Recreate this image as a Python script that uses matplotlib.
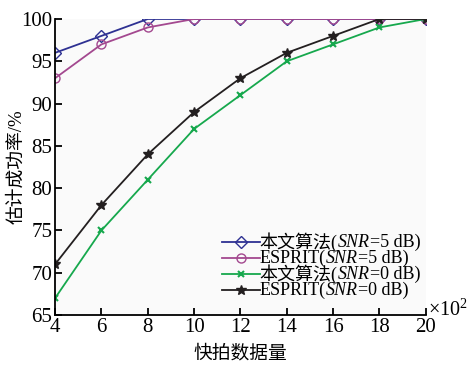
import matplotlib.pyplot as plt
from matplotlib.lines import Line2D
from matplotlib.offsetbox import TextArea, DrawingArea, HPacker, VPacker, AnchoredOffsetbox

plt.rcParams['font.family'] = ['Liberation Serif', 'Noto Sans CJK SC']
plt.rcParams['mathtext.fontset'] = 'custom'
plt.rcParams['mathtext.rm'] = 'Liberation Serif'
plt.rcParams['mathtext.it'] = 'Liberation Serif:italic'

snapshots = [4, 6, 8, 10, 12, 14, 16, 18, 20]
ours_5db = [96, 98, 100, 100, 100, 100, 100, 100, 100]
esprit_5db = [93, 97, 99, 100, 100, 100, 100, 100, 100]
ours_0db = [67, 75, 81, 87, 91, 95, 97, 99, 100]
esprit_0db = [71, 78, 84, 89, 93, 96, 98, 100, 100]

# (method name, snr text) for the legend
labels = [('本文算法', '5 dB'), ('ESPRIT', '5 dB'), ('本文算法', '0 dB'), ('ESPRIT', '0 dB')]

fig = plt.figure(figsize=(4.71, 3.65), dpi=100)
ax = fig.add_axes([0.117, 0.137, 0.787, 0.811])
ax.set_facecolor('#fafafa')

styles = [
    dict(marker='D', color='#2e3192', mfc='none', ms=6, lw=1.3),
    dict(marker='o', color='#a3488f', mfc='none', ms=6.5, lw=1.3),
    dict(marker='x', color='#16a84d', ms=4, mew=1.5, lw=1.3),
    dict(marker='*', color='#231f20', ms=7, lw=1.3),
]
series = [ours_5db, esprit_5db, ours_0db, esprit_0db]
for ys, st in zip(series, styles):
    ax.plot(snapshots, ys, '-', **st)

ax.set_xlim(4, 20)
ax.set_ylim(65, 100)
ax.set_xticks(snapshots)
ax.set_yticks(range(65, 101, 5))
ax.spines['top'].set_visible(False)
ax.spines['right'].set_visible(False)
ax.spines['left'].set_linewidth(1.3)
ax.spines['bottom'].set_linewidth(1.3)
ax.tick_params(direction='in', length=5, width=1.3, labelsize=15, pad=2)

ax.set_xlabel('快拍数据量', fontsize=13.5, family=['Noto Sans CJK SC'], labelpad=4)
ax.set_ylabel('估计成功率/%', fontsize=13.5, labelpad=-3)
ax.text(1.005, 0.015, '×10$^2$', transform=ax.transAxes, fontsize=14.5, va='center', ha='left')

# legend built by hand so the CJK text and the italic SNR can share one line
rows = []
fs = 13
for (name, snr), st in zip(labels, styles):
    da = DrawingArea(27, 10, 0, 0)
    da.add_artist(Line2D([0, 27], [5, 5], color=st['color'], lw=st['lw']))
    mk = {k: v for k, v in st.items() if k != 'lw'}
    da.add_artist(Line2D([13.5], [5], linestyle='none', **mk))
    parts = [da,
             TextArea(name + '(', textprops=dict(fontsize=fs)),
             TextArea('SNR', textprops=dict(fontsize=fs, style='italic')),
             TextArea('=' + snr + ')', textprops=dict(fontsize=fs))]
    rows.append(HPacker(children=parts, align='center', pad=0, sep=0))
box = VPacker(children=rows, align='left', pad=0, sep=-1.8)
anchored = AnchoredOffsetbox(loc='lower right', child=box, frameon=False,
                             bbox_to_anchor=(1.0, 0.036), bbox_transform=ax.transAxes,
                             borderpad=0)
ax.add_artist(anchored)

fig.savefig('out.png', dpi=100)
